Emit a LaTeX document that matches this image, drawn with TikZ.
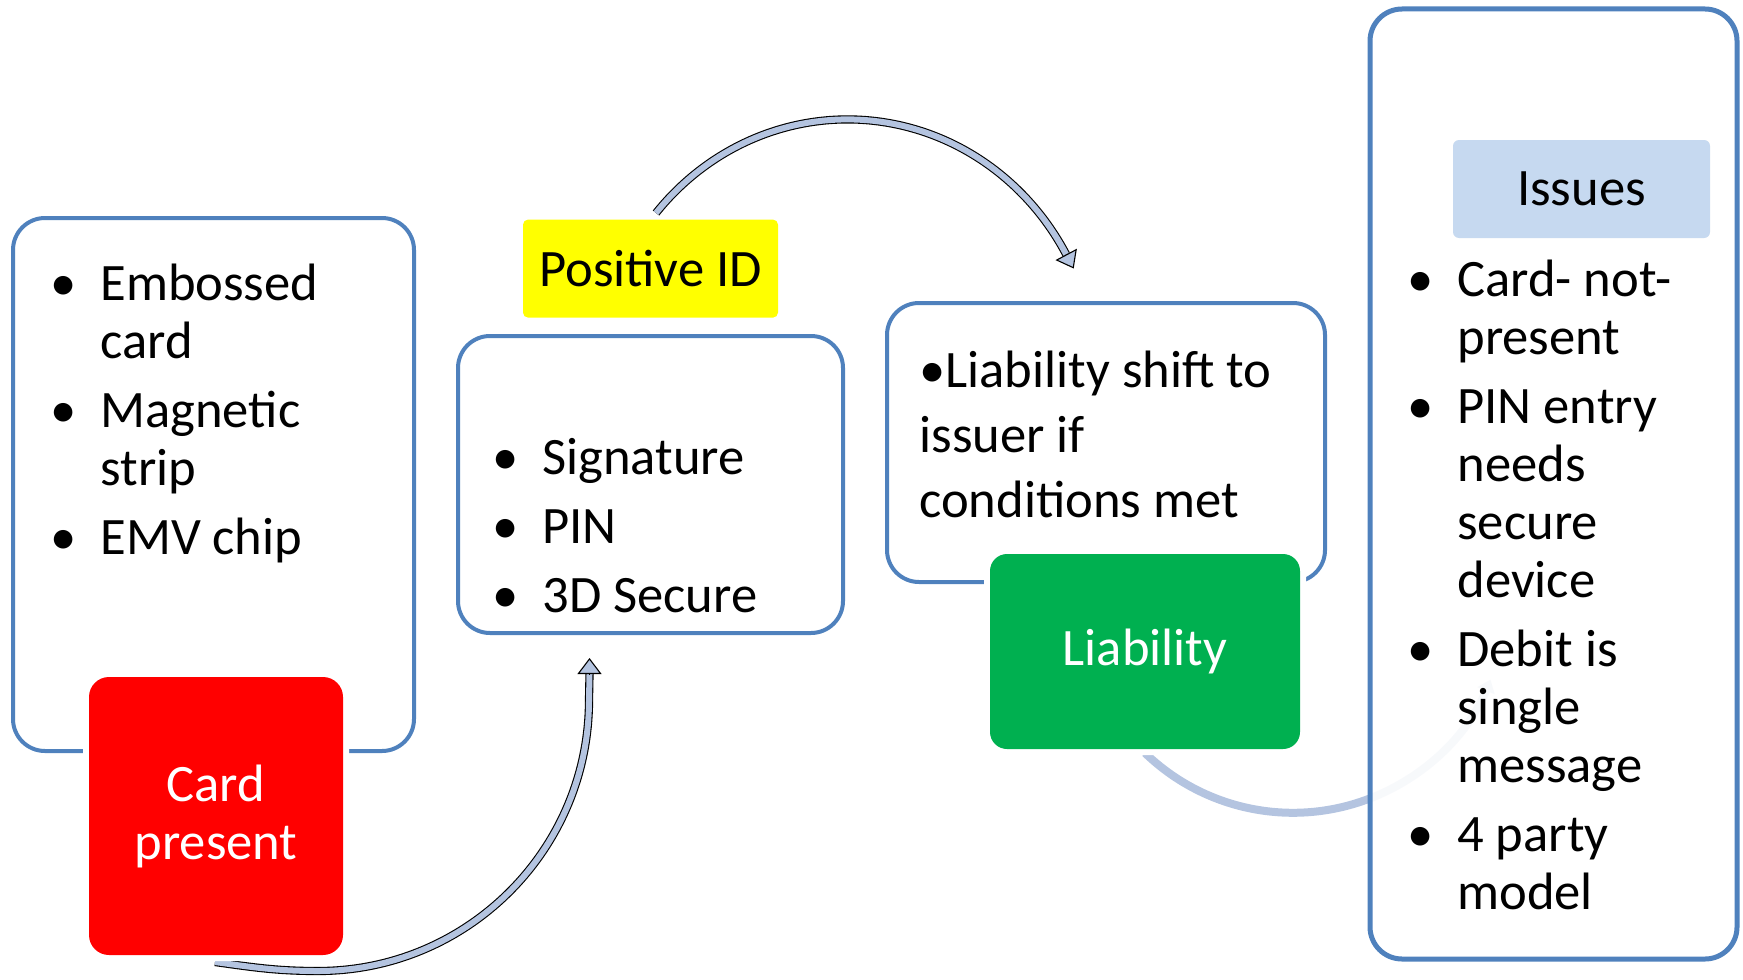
\documentclass[tikz,border=0pt]{standalone}
\usepackage{fontspec}
\setmainfont{Carlito}
\usetikzlibrary{positioning, arrows.meta}

\definecolor{outblue}{RGB}{79,129,189}
\definecolor{arrowfill}{RGB}{180,196,224}
\definecolor{cardred}{RGB}{255,0,0}
\definecolor{idyellow}{RGB}{255,255,0}
\definecolor{liabgreen}{RGB}{0,176,80}
\definecolor{issueblue}{RGB}{198,217,240}

\newcommand{\bigtext}{\fontsize{26.3pt}{29pt}\selectfont}
\newcommand{\bitem}{\makebox[25pt][l]{\textbullet}}
\newcommand{\bgap}{\hspace*{25pt}}

\tikzset{
  panel/.style={draw=outblue, line width=2pt, fill=white, rounded corners=16pt, inner sep=0pt},
  tag/.style={inner sep=0pt, align=center, font=\bigtext},
  ring/.style={preaction={draw=white, line width=6pt}},
  shaft/.style={draw=black, line width=0.55pt, double=arrowfill, double distance=3pt},
  head/.style={draw=black, line width=0.55pt, -{Triangle[width=12pt, length=8pt, fill=arrowfill]}},
  fadearc/.style={draw=arrowfill, line width=4pt, -{Triangle[width=9pt, length=6pt]}},
  bul/.style={anchor=base west, align=left, inner sep=0pt, font=\bigtext}
}

\begin{document}
\begin{tikzpicture}[x=0.5pt, y=0.5pt]
  \useasboundingbox (0,0) rectangle (1743,-979);

  % Outline panels
  \node[panel, minimum width=200.5pt, minimum height=266.5pt] (present) at (213.5,-484.5) {};
  \node[panel, minimum width=192.5pt, minimum height=148.5pt] (ident) at (650.5,-484.5) {};
  \node[panel, minimum width=219pt, minimum height=139.5pt] (shift) at (1106,-442.5) {};

  % Curved arrows
  \coordinate (a1s) at (215,-962);
  \draw[shaft] (a1s) to[out=-8, in=180] (318,-971)
    arc[start angle=-90, end angle=0, radius=135.5pt] -- (589.5,-674) coordinate (a1e);
  \draw[head] (a1e) -- ++(90:16);

  \coordinate (a2s) at (656,-213);
  \draw[shaft] (a2s) arc[start angle=140, end angle=29, x radius=125pt, y radius=131pt] coordinate (a2e);
  \draw[head] (a2e) -- ++(-62:16);

  \coordinate (a3s) at (1145,-753);
  \draw[fadearc] (a3s) arc[start angle=226, end angle=338, radius=106.5pt];

  % Issues panel (lets the arc show through faintly)
  \node[panel, line width=2.5pt, fill opacity=0.9, minimum width=183.5pt, minimum height=475pt] (issuebox) at (1553.5,-484) {};

  % Coloured tags
  \node[tag, ring, fill=cardred, text=white, rounded corners=10pt, minimum width=127pt, minimum height=139pt] (card) at (216,-816) {Card\\present};
  \node[tag, fill=idyellow, rounded corners=2.5pt, minimum width=127.5pt, minimum height=49pt, above=8pt of ident] (posid) {Positive ID};
  \node[tag, ring, fill=liabgreen, text=white, rounded corners=8.5pt, minimum width=155pt, minimum height=97.5pt] (liab) at (1145,-651.5) {Liability};
  \node[tag, fill=issueblue, rounded corners=3pt, minimum width=128.5pt, minimum height=49pt] (iss) at (1581.5,-189) {Issues};

  % Panel texts (anchored at the baseline of the last line)
  \node[bul] (cardtxt) at (50,-554) {\bitem Embossed\\ \bgap card\\[5.5pt] \bitem Magnetic\\ \bgap strip\\[5.5pt] \bitem EMV chip};
  \node[bul] (idtxt) at (492,-612) {\bitem Signature\\[5.5pt] \bitem PIN\\[5.5pt] \bitem 3D Secure};
  \node[bul, font=\fontsize{26.3pt}{32.5pt}\selectfont] (shifttxt) at (919,-517) {\textbullet Liability shift to\\ issuer if\\ conditions met};
  \node[bul] (isstxt) at (1407,-909) {\bitem Card- not-\\ \bgap present\\[5.5pt] \bitem PIN entry\\ \bgap needs\\ \bgap secure\\ \bgap device\\[5.5pt] \bitem Debit is\\ \bgap single\\ \bgap message\\[5.5pt] \bitem 4 party\\ \bgap model};
\end{tikzpicture}
\end{document}
